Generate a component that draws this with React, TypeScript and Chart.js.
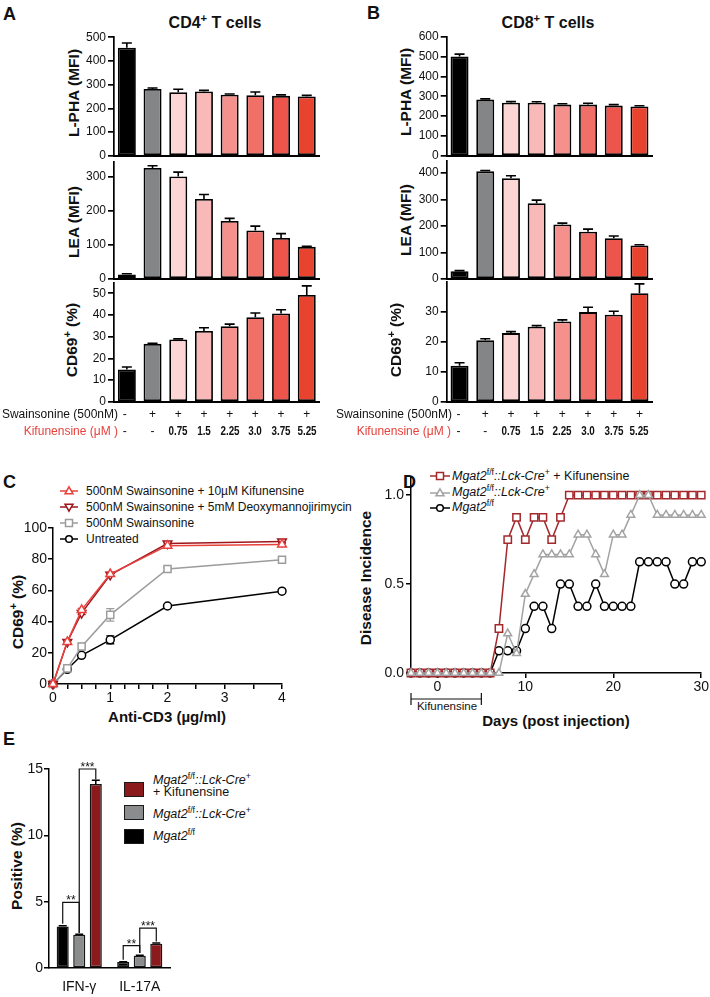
import React, { useEffect, useRef } from 'react';
import { Chart, registerables } from 'chart.js';
Chart.register(...registerables);

const FONT = '"Liberation Sans", Arial, Helvetica, sans-serif';
const NARROW = '"Liberation Sans Narrow", "Arial Narrow", "Liberation Sans", Arial, sans-serif';

// ---------------- Panels A / B data ----------------
const treatments = ['Untreated', 'Swainsonine', 'Kif 0.75', 'Kif 1.5', 'Kif 2.25', 'Kif 3.0', 'Kif 3.75', 'Kif 5.25'];
const swainsonineRow = ['-', '+', '+', '+', '+', '+', '+', '+'];
const kifunensineRow = ['-', '-', '0.75', '1.5', '2.25', '3.0', '3.75', '5.25'];
const barColors = ['#000000', '#838587', '#fcd6d4', '#f9b9b8', '#f4918d', '#f07067', '#ec544c', '#e8432f'];

const cd4LPHA = [456, 282, 268, 271, 258, 256, 253, 250];
const cd4LPHAErr = [20, 4, 13, 5, 3, 13, 4, 5];
const cd4LEA = [13, 326, 301, 235, 170, 142, 120, 94];
const cd4LEAErr = [2, 7, 13, 13, 8, 13, 13, 2];
const cd4CD69 = [14.9, 26.7, 28.7, 32.6, 34.8, 39.0, 40.7, 49.2];
const cd4CD69Err = [1.1, 0.3, 0.3, 1.5, 1.0, 1.9, 1.7, 4.2];

const cd8LPHA = [500, 283, 267, 267, 258, 258, 253, 248];
const cd8LPHAErr = [12, 4, 6, 5, 4, 7, 5, 4];
const cd8LEA = [29, 407, 381, 286, 206, 178, 154, 126];
const cd8LEAErr = [2, 3, 9, 12, 5, 10, 8, 3];
const cd8CD69 = [12.0, 20.5, 22.9, 25.0, 26.8, 29.9, 29.0, 36.2];
const cd8CD69Err = [1.0, 0.5, 0.5, 0.4, 0.5, 1.6, 1.2, 3.1];

// ---------------- Panel C data ----------------
const antiCD3 = [0, 0.25, 0.5, 1, 2, 4];
const cSeriesNames = [
  '500nM Swainsonine + 10µM Kifunensine',
  '500nM Swainsonine + 5mM Deoxymannojirimycin',
  '500nM Swainsonine',
  'Untreated',
];
const cKif = [0, 27, 47.5, 70.5, 88.7, 89.5];
const cKifErr = [0, 1, 1, 1, 1, 1];
const cDMJ = [0, 27, 45.5, 70, 90, 91.4];
const cDMJErr = [0, 1, 1, 1, 1, 1];
const cSwa = [0, 10, 24, 44.3, 73.7, 79.7];
const cSwaErr = [0, 1, 2, 4, 1, 1];
const cUnt = [0, 9.4, 18.4, 28.3, 50, 59.5];
const cUntErr = [0, 1, 1, 2.5, 0.5, 0.5];
const cXTicks = [0, 0.25, 0.5, 0.75, 1, 1.25, 1.5, 1.75, 2, 2.5, 3, 3.5, 4];
const cYTicks = [0, 20, 40, 60, 80, 100];

// ---------------- Panel D data ----------------
const days = [-3, -2, -1, 0, 1, 2, 3, 4, 5, 6, 7, 8, 9, 10, 11, 12, 13, 14, 15, 16, 17, 18, 19, 20, 21, 22, 23, 24, 25, 26, 27, 28, 29, 30];
const dKifInc = [0, 0, 0, 0, 0, 0, 0, 0, 0, 0, 0.25, 0.75, 0.875, 0.75, 0.875, 0.875, 0.75, 0.875, 1, 1, 1, 1, 1, 1, 1, 1, 1, 1, 1, 1, 1, 1, 1, 1];
const dKOInc = [0, 0, 0, 0, 0, 0, 0, 0, 0, 0, 0, 0.222, 0.111, 0.444, 0.556, 0.667, 0.667, 0.667, 0.667, 0.778, 0.778, 0.667, 0.556, 0.778, 0.778, 0.889, 1, 1, 0.889, 0.889, 0.889, 0.889, 0.889, 0.889];
const dCtrlInc = [0, 0, 0, 0, 0, 0, 0, 0, 0, 0, 0.125, 0.125, 0.125, 0.25, 0.375, 0.375, 0.25, 0.5, 0.5, 0.375, 0.375, 0.5, 0.375, 0.375, 0.375, 0.375, 0.625, 0.625, 0.625, 0.625, 0.5, 0.5, 0.625, 0.625];
const dXTicks = [0, 10, 20, 30];
const dYTicks = [0, 0.5, 1];
const kifDosing = [-3, 5];

// ---------------- Panel E data ----------------
const cytokines = ['IFN-γ', 'IL-17A'];
const eCtrl = [3.13, 0.45];
const eCtrlErr = [0.05, 0.03];
const eKO = [2.5, 0.93];
const eKOErr = [0.05, 0.04];
const eKOKif = [13.86, 1.83];
const eKOKifErr = [0.3, 0.05];
const eYTicks = [0, 5, 10, 15];
const eBrackets = [
  { cat: 0, from: 0, to: 1, top: 4.94, fromEnd: 3.33, toEnd: 2.63, label: '**' },
  { cat: 0, from: 1, to: 2, top: 15.0, fromEnd: 2.63, toEnd: 14.2, label: '***' },
  { cat: 1, from: 0, to: 1, top: 1.68, fromEnd: 0.63, toEnd: 1.13, label: '**' },
  { cat: 1, from: 1, to: 2, top: 3.0, fromEnd: 1.13, toEnd: 2.0, label: '***' },
];

// ---------------- colours ----------------
const KIF_RED = '#e8413c';
const DMJ_RED = '#a0151b';
const C_GRAY = '#9c9c9c';
const D_RED = '#a4282c';
const D_GRAY = '#a3a3a3';
const E_RED = '#8b1a1d';
const E_GRAY = '#8a8c8e';

// ---------------- layout ----------------
const CAT_W = 25.7;
const A_X0 = 114;
const B_X0 = 446.7;

type Box = { axisX: number; yTop: number; yBottom: number; xRight: number; yw: number; xh: number; padT?: number; padR?: number; padB?: number };

function frame(b: Box) {
  const padT0 = b.padT ?? 10, padR0 = b.padR ?? 10, padB0 = b.padB ?? 8;
  const left = Math.floor(b.axisX - b.yw);
  const top = Math.floor(b.yTop - padT0);
  const yw = b.axisX - left;
  const padT = b.yTop - top;
  const width = Math.ceil(yw + (b.xRight - b.axisX) + padR0);
  const padR = width - yw - (b.xRight - b.axisX);
  const height = Math.ceil(padT + (b.yBottom - b.yTop) + b.xh + padB0);
  const padB = height - padT - (b.yBottom - b.yTop) - b.xh;
  return { left, top, width, height, yw, xh: b.xh, padding: { top: padT, right: padR, bottom: padB, left: 0 } };
}

function drawErr(chart: any, before: boolean) {
  const ctx = chart.ctx;
  chart.data.datasets.forEach((ds: any, i: number) => {
    if (!ds.errs || !!ds.errBoth !== before) return;
    const meta = chart.getDatasetMeta(i);
    const ys = chart.scales[meta.yAxisID];
    ctx.save();
    ctx.strokeStyle = ds.errColor || '#000';
    ctx.lineWidth = ds.errWidth || 1.5;
    meta.data.forEach((el: any, j: number) => {
      const e = ds.errs[j];
      if (!e) return;
      const raw = ds.data[j];
      const v = typeof raw === 'number' ? raw : raw.y;
      const hi = ys.getPixelForValue(v + e);
      const lo = ds.errBoth ? ys.getPixelForValue(v - e) : el.y;
      const c = ds.errCap || 5;
      ctx.beginPath();
      ctx.moveTo(el.x, lo);
      ctx.lineTo(el.x, hi);
      ctx.moveTo(el.x - c, hi);
      ctx.lineTo(el.x + c, hi);
      if (ds.errBoth) {
        ctx.moveTo(el.x - c, lo);
        ctx.lineTo(el.x + c, lo);
      }
      ctx.stroke();
    });
    ctx.restore();
  });
}

const errorBars = {
  id: 'errorBars',
  beforeDatasetsDraw(chart: any) { drawErr(chart, true); },
  afterDatasetsDraw(chart: any) { drawErr(chart, false); },
};

const sigBrackets = {
  id: 'sigBrackets',
  afterDatasetsDraw(chart: any) {
    const ctx = chart.ctx;
    const ys = chart.scales.y;
    ctx.save();
    ctx.strokeStyle = '#111';
    ctx.fillStyle = '#111';
    ctx.lineWidth = 1.2;
    ctx.font = `12px ${FONT}`;
    ctx.textAlign = 'center';
    ctx.textBaseline = 'alphabetic';
    eBrackets.forEach((b) => {
      const xa = chart.getDatasetMeta(b.from).data[b.cat].x;
      const xb = chart.getDatasetMeta(b.to).data[b.cat].x;
      const yt = ys.getPixelForValue(b.top);
      ctx.beginPath();
      ctx.moveTo(xa, ys.getPixelForValue(b.fromEnd));
      ctx.lineTo(xa, yt);
      ctx.lineTo(xb, yt);
      ctx.lineTo(xb, ys.getPixelForValue(b.toEnd));
      ctx.stroke();
      ctx.fillText(b.label, (xa + xb) / 2, yt + 2);
    });
    ctx.restore();
  },
};

const dosingBracket = {
  id: 'dosingBracket',
  afterDraw(chart: any) {
    const xs = chart.scales.x;
    const ctx = chart.ctx;
    const y = chart.chartArea.bottom + 26;
    const x1 = xs.getPixelForValue(kifDosing[0]);
    const x2 = xs.getPixelForValue(kifDosing[1]);
    ctx.save();
    ctx.strokeStyle = '#111';
    ctx.lineWidth = 1.2;
    ctx.beginPath();
    ctx.moveTo(x1, y); ctx.lineTo(x2, y);
    ctx.moveTo(x1, y - 6); ctx.lineTo(x1, y + 6);
    ctx.moveTo(x2, y - 6); ctx.lineTo(x2, y + 6);
    ctx.stroke();
    ctx.restore();
  },
};

function baseOptions(f: any) {
  return {
    animation: false,
    responsive: false,
    maintainAspectRatio: false,
    events: [],
    layout: { padding: f.padding },
    plugins: { legend: { display: false }, tooltip: { enabled: false } },
  };
}

function yAxis(f: any, min: number, max: number, ticks: number[], size: number, tickLen: number, pad: number, fmt?: (v: number) => string, bw = 1.5) {
  return {
    type: 'linear',
    min,
    max,
    afterBuildTicks: (ax: any) => { ax.ticks = ticks.map((v) => ({ value: v })); },
    afterFit: (ax: any) => { ax.width = f.yw; },
    grid: { display: true, drawOnChartArea: false, drawTicks: true, tickLength: tickLen, color: '#000', tickColor: '#000', lineWidth: bw, tickWidth: bw },
    border: { display: true, color: '#000', width: bw },
    ticks: { color: '#111', font: { family: FONT, size }, padding: pad, autoSkip: false, callback: fmt || ((v: any) => String(v)) },
  };
}

function xBarAxis() {
  return {
    grid: { display: false, drawTicks: false },
    ticks: { display: false },
    border: { display: true, color: '#000', width: 2 },
    afterFit: (ax: any) => { ax.height = 0; },
  };
}

function barBuild(values: number[], errs: number[], max: number, ticks: number[]) {
  return (f: any) => ({
    type: 'bar',
    data: {
      labels: treatments,
      datasets: [{ data: values, errs, errCap: 5, errWidth: 1.6, backgroundColor: barColors, borderColor: '#000', borderWidth: 1.8, borderSkipped: false, barPercentage: 0.7, categoryPercentage: 1 }],
    },
    options: { ...baseOptions(f), scales: { x: xBarAxis(), y: yAxis(f, 0, max, ticks, 12, 6, 2, undefined, 1.7) } },
    plugins: [errorBars],
  });
}

function cBuild(f: any) {
  const mk = (ys: number[], errs: number[], color: string, style: string, radius: number, rot: number) => ({
    data: antiCD3.map((x, i) => ({ x, y: ys[i] })),
    errs, errBoth: true, errColor: color, errCap: 4, errWidth: 1.3,
    borderColor: color, borderWidth: 1.5, pointStyle: style, pointRadius: radius, pointRotation: rot,
    pointBackgroundColor: '#fff', pointBorderColor: color, pointBorderWidth: 1.5, clip: false, tension: 0,
  });
  return {
    type: 'line',
    data: {
      datasets: [
        mk(cKif, cKifErr, KIF_RED, 'triangle', 5, 0),
        mk(cDMJ, cDMJErr, DMJ_RED, 'triangle', 5, 180),
        mk(cSwa, cSwaErr, C_GRAY, 'rect', 5, 0),
        mk(cUnt, cUntErr, '#000', 'circle', 4, 0),
      ],
    },
    options: {
      ...baseOptions(f),
      scales: {
        x: {
          type: 'linear', min: 0, max: 4,
          afterBuildTicks: (ax: any) => { ax.ticks = cXTicks.map((v) => ({ value: v })); },
          afterFit: (ax: any) => { ax.height = f.xh; },
          grid: { display: true, drawOnChartArea: false, drawTicks: true, tickLength: 5, color: '#000', tickColor: '#000', lineWidth: 1.5, tickWidth: 1.5 },
          border: { display: true, color: '#000', width: 1.5 },
          ticks: { color: '#111', font: { family: FONT, size: 14 }, padding: 1, autoSkip: false, maxRotation: 0, callback: (v: any) => (Number.isInteger(v) ? String(v) : '') },
        },
        y: yAxis(f, 0, 100, cYTicks, 14, 5, 1),
      },
    },
    plugins: [errorBars],
  };
}

function dBuild(f: any) {
  const mk = (ys: number[], color: string, style: string, radius: number, order: number) => ({
    data: days.map((x, i) => ({ x, y: ys[i] })),
    borderColor: color, borderWidth: 1.5, pointStyle: style, pointRadius: radius,
    pointBackgroundColor: '#fff', pointBorderColor: color, pointBorderWidth: 1.5, clip: false, tension: 0, order,
  });
  return {
    type: 'line',
    data: {
      datasets: [
        mk(dKifInc, D_RED, 'rect', 5.2, 1),
        mk(dKOInc, D_GRAY, 'triangle', 4.5, 0),
        mk(dCtrlInc, '#000', 'circle', 4, 2),
      ],
    },
    options: {
      ...baseOptions(f),
      scales: {
        x: {
          type: 'linear', min: -3, max: 30,
          afterBuildTicks: (ax: any) => { ax.ticks = dXTicks.map((v) => ({ value: v })); },
          afterFit: (ax: any) => { ax.height = f.xh; },
          grid: { display: true, drawOnChartArea: false, drawTicks: true, tickLength: 5, color: '#000', tickColor: '#000', lineWidth: 1.5, tickWidth: 1.5 },
          border: { display: true, color: '#000', width: 1.5 },
          ticks: { color: '#111', font: { family: FONT, size: 14 }, padding: 1, autoSkip: false, maxRotation: 0 },
        },
        y: yAxis(f, 0, 1.1, dYTicks, 14, 5, 2, (v: number) => v.toFixed(1)),
      },
    },
    plugins: [dosingBracket],
  };
}

function eBuild(f: any) {
  const mk = (data: number[], errs: number[], color: string) => ({
    data, errs, errCap: 4, backgroundColor: color, borderColor: '#151515', borderWidth: 1.5, borderSkipped: false,
    barPercentage: 0.73, categoryPercentage: 0.82,
  });
  return {
    type: 'bar',
    data: { labels: cytokines, datasets: [mk(eCtrl, eCtrlErr, '#000'), mk(eKO, eKOErr, E_GRAY), mk(eKOKif, eKOKifErr, E_RED)] },
    options: {
      ...baseOptions(f),
      scales: {
        x: {
          grid: { display: false, drawTicks: false },
          border: { display: true, color: '#000', width: 1.5 },
          afterFit: (ax: any) => { ax.height = f.xh; },
          ticks: { color: '#111', font: { family: FONT, size: 14 }, padding: 11, maxRotation: 0 },
        },
        y: yAxis(f, 0, 15, eYTicks, 14, 5, 1),
      },
    },
    plugins: [errorBars, sigBrackets],
  };
}

function ChartCanvas({ box, build }: { box: Box; build: (f: any) => any }) {
  const ref = useRef<HTMLCanvasElement>(null);
  const f = frame(box);
  useEffect(() => {
    const chart = new Chart(ref.current as HTMLCanvasElement, build(f) as any);
    return () => chart.destroy();
  }, []);
  return (
    <canvas ref={ref} width={f.width} height={f.height}
      style={{ position: 'absolute', left: f.left, top: f.top, width: f.width, height: f.height }} />
  );
}

// ---------------- text helpers ----------------
function T({ x, y, size = 12, align = 'left', bold = false, italic = false, color = '#111', family = FONT, sx = 1, children }: any) {
  const style: any = {
    position: 'absolute', top: y - size / 2, fontSize: size, lineHeight: `${size}px`, fontFamily: family,
    fontWeight: bold ? 700 : 400, fontStyle: italic ? 'italic' : 'normal', color, whiteSpace: 'nowrap',
  };
  if (align === 'left') style.left = x;
  else if (align === 'right') style.right = 710 - x;
  else { style.left = x; style.transform = `translateX(-50%) scaleX(${sx})`; }
  return <div style={style}>{children}</div>;
}

function R({ x, y, size = 15, children }: any) {
  return (
    <div style={{ position: 'absolute', left: x, top: y, transform: 'translate(-50%,-50%) rotate(-90deg)', fontSize: size, lineHeight: `${size}px`, fontWeight: 700, fontFamily: FONT, whiteSpace: 'nowrap', color: '#111' }}>
      {children}
    </div>
  );
}

const Sup = ({ children }: any) => (
  <span style={{ fontSize: '0.7em', position: 'relative', top: '-0.55em', lineHeight: 0 }}>{children}</span>
);

const Gene = ({ ko, extra }: any) => (
  <span>
    <i>Mgat2</i><Sup>f/f</Sup>{ko ? <><i>::Lck-Cre</i><Sup>+</Sup></> : null}{extra}
  </span>
);

function LegendMark({ x, y, shape, color, w = 18 }: any) {
  const c = w / 2;
  let m: any = null;
  if (shape === 'circle') m = <circle cx={c} cy={6} r={3.3} fill="#fff" stroke={color} strokeWidth={1.5} />;
  if (shape === 'rect') m = <rect x={c - 3.5} y={2.5} width={7} height={7} fill="#fff" stroke={color} strokeWidth={1.5} />;
  if (shape === 'tri') m = <polygon points={`${c},1.8 ${c + 4},8.8 ${c - 4},8.8`} fill="#fff" stroke={color} strokeWidth={1.5} />;
  if (shape === 'triDown') m = <polygon points={`${c},10.2 ${c + 4},3.2 ${c - 4},3.2`} fill="#fff" stroke={color} strokeWidth={1.5} />;
  return (
    <svg style={{ position: 'absolute', left: x, top: y - 6 }} width={w} height={12}>
      <line x1={0} y1={6} x2={w} y2={6} stroke={color} strokeWidth={1.5} />
      {m}
    </svg>
  );
}

const BOX_A_LPHA: Box = { axisX: A_X0, yTop: 37.3, yBottom: 156.7, xRight: A_X0 + CAT_W * 8, yw: 40, xh: 0 };
const BOX_A_LEA: Box = { axisX: A_X0, yTop: 161.6, yBottom: 280, xRight: A_X0 + CAT_W * 8, yw: 40, xh: 0 };
const BOX_A_CD69: Box = { axisX: A_X0, yTop: 282.4, yBottom: 402.7, xRight: A_X0 + CAT_W * 8, yw: 40, xh: 0 };
const BOX_B_LPHA: Box = { axisX: B_X0, yTop: 36.7, yBottom: 156.7, xRight: B_X0 + CAT_W * 8, yw: 40, xh: 0 };
const BOX_B_LEA: Box = { axisX: B_X0, yTop: 161.3, yBottom: 280, xRight: B_X0 + CAT_W * 8, yw: 40, xh: 0 };
const BOX_B_CD69: Box = { axisX: B_X0, yTop: 281.8, yBottom: 402.7, xRight: B_X0 + CAT_W * 8, yw: 40, xh: 0 };
const BOX_C: Box = { axisX: 53, yTop: 528, yBottom: 684, xRight: 282, yw: 45, xh: 22, padR: 12 };
const BOX_D: Box = { axisX: 411, yTop: 477.2, yBottom: 673, xRight: 703, yw: 45, xh: 22, padR: 7, padB: 18 };
const BOX_E: Box = { axisX: 49, yTop: 769, yBottom: 968, xRight: 170, yw: 40, xh: 26, padT: 16, padR: 8 };

export default function App() {
  const aC = treatments.map((_, i) => A_X0 + CAT_W * (i + 0.5));
  const bC = treatments.map((_, i) => B_X0 + CAT_W * (i + 0.5));
  const cMarks = [
    { shape: 'tri', color: KIF_RED },
    { shape: 'triDown', color: DMJ_RED },
    { shape: 'rect', color: C_GRAY },
    { shape: 'circle', color: '#000' },
  ];
  const cRowsY = [491, 507, 523, 538.5];
  return (
    <div style={{ position: 'absolute', left: 0, top: 0, width: 710, height: 997, background: '#fff', overflow: 'hidden', fontFamily: FONT }}>
      {/* Panel A */}
      <T x={3} y={14} size={18} bold>A</T>
      <T x={215} y={23} size={16} bold align="center">CD4<Sup>+</Sup> T cells</T>
      <R x={74} y={93} size={15.5}>L-PHA (MFI)</R>
      <R x={74} y={222} size={15.5}>LEA (MFI)</R>
      <R x={72} y={340} size={15.5}>CD69<Sup>+</Sup> (%)</R>
      <ChartCanvas box={BOX_A_LPHA} build={barBuild(cd4LPHA, cd4LPHAErr, 500, [0, 100, 200, 300, 400, 500])} />
      <ChartCanvas box={BOX_A_LEA} build={barBuild(cd4LEA, cd4LEAErr, 345, [0, 100, 200, 300])} />
      <ChartCanvas box={BOX_A_CD69} build={barBuild(cd4CD69, cd4CD69Err, 55, [0, 10, 20, 30, 40, 50])} />

      {/* Panel B */}
      <T x={367} y={13} size={18} bold>B</T>
      <T x={548} y={23} size={16} bold align="center">CD8<Sup>+</Sup> T cells</T>
      <R x={406} y={92} size={15.5}>L-PHA (MFI)</R>
      <R x={406} y={220} size={15.5}>LEA (MFI)</R>
      <R x={396} y={340} size={15.5}>CD69<Sup>+</Sup> (%)</R>
      <ChartCanvas box={BOX_B_LPHA} build={barBuild(cd8LPHA, cd8LPHAErr, 600, [0, 100, 200, 300, 400, 500, 600])} />
      <ChartCanvas box={BOX_B_LEA} build={barBuild(cd8LEA, cd8LEAErr, 445, [0, 100, 200, 300, 400])} />
      <ChartCanvas box={BOX_B_CD69} build={barBuild(cd8CD69, cd8CD69Err, 40, [0, 10, 20, 30])} />

      {/* treatment table */}
      <T x={118} y={413.7} size={12} align="right">Swainsonine (500nM)</T>
      <T x={118} y={431.3} size={12} align="right" color={KIF_RED}>Kifunensine (μM )</T>
      <T x={452} y={413.7} size={12} align="right">Swainsonine (500nM)</T>
      <T x={451} y={431.3} size={12} align="right" color={KIF_RED}>Kifunensine (μM )</T>
      {swainsonineRow.map((s, i) => (
        <React.Fragment key={'s' + i}>
          <T x={aC[i] - (i === 0 ? 2 : 0)} y={413.7} size={12} align="center">{s}</T>
          <T x={bC[i] - (i === 0 ? 1 : 0)} y={413.7} size={12} align="center">{s}</T>
        </React.Fragment>
      ))}
      {kifunensineRow.map((s, i) => (
        <React.Fragment key={'k' + i}>
          <T x={aC[i] - (i === 0 ? 2 : 0)} y={431.3} size={12} align="center" bold={i > 1} family={i > 1 ? NARROW : FONT} sx={i > 1 ? 0.82 : 1}>{s}</T>
          <T x={bC[i] - (i === 0 ? 1 : 0)} y={431.3} size={12} align="center" bold={i > 1} family={i > 1 ? NARROW : FONT} sx={i > 1 ? 0.82 : 1}>{s}</T>
        </React.Fragment>
      ))}

      {/* Panel C */}
      <T x={3} y={481.5} size={18} bold>C</T>
      {cSeriesNames.map((n, i) => (
        <React.Fragment key={'c' + i}>
          <LegendMark x={60} y={cRowsY[i]} shape={cMarks[i].shape} color={cMarks[i].color} />
          <T x={86} y={cRowsY[i]} size={12}>{n}</T>
        </React.Fragment>
      ))}
      <R x={18} y={612} size={15.5}>CD69<Sup>+</Sup> (%)</R>
      <T x={167} y={716} size={15} bold align="center">Anti-CD3 (µg/ml)</T>
      <ChartCanvas box={BOX_C} build={cBuild} />

      {/* Panel D */}
      <T x={403} y={481.5} size={18} bold>D</T>
      <LegendMark x={430} y={476} shape="rect" color={D_RED} w={20} />
      <T x={452} y={476} size={12.5}><Gene ko extra=" + Kifunensine" /></T>
      <LegendMark x={430} y={492.5} shape="tri" color={D_GRAY} w={20} />
      <T x={452} y={492.5} size={12.5}><Gene ko /></T>
      <LegendMark x={430} y={507.5} shape="circle" color="#000" w={20} />
      <T x={452} y={507.5} size={12.5}><Gene /></T>
      <R x={366} y={578} size={15.5}>Disease Incidence</R>
      <T x={556} y={720} size={15} bold align="center">Days (post injection)</T>
      <T x={447} y={707} size={11.5} align="center">Kifunensine</T>
      <ChartCanvas box={BOX_D} build={dBuild} />

      {/* Panel E */}
      <T x={3} y={739} size={18} bold>E</T>
      <R x={17} y={866} size={15.5}>Positive (%)</R>
      <div style={{ position: 'absolute', left: 124, top: 782, width: 20, height: 15, boxSizing: 'border-box', background: E_RED, border: '1.5px solid #1a1a1a' }} />
      <div style={{ position: 'absolute', left: 124, top: 805, width: 20, height: 15, boxSizing: 'border-box', background: E_GRAY, border: '1.5px solid #1a1a1a' }} />
      <div style={{ position: 'absolute', left: 124, top: 829, width: 20, height: 15, boxSizing: 'border-box', background: '#000', border: '1.5px solid #1a1a1a' }} />
      <T x={153} y={780} size={12.5}><Gene ko /></T>
      <T x={153} y={792} size={12.5}>+ Kifunensine</T>
      <T x={153} y={814} size={12.5}><Gene ko /></T>
      <T x={153} y={836} size={12.5}><Gene /></T>
      <ChartCanvas box={BOX_E} build={eBuild} />
    </div>
  );
}
